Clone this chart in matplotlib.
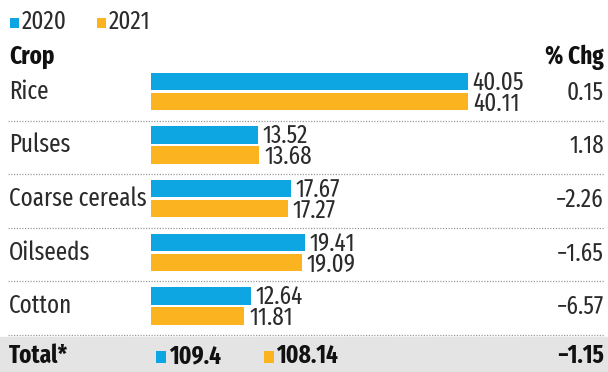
import matplotlib
matplotlib.use("Agg")
import matplotlib.pyplot as plt
from matplotlib import font_manager

crops = ["Rice", "Pulses", "Coarse cereals", "Oilseeds", "Cotton"]
area_2020 = [40.05, 13.52, 17.67, 19.41, 12.64]
area_2021 = [40.11, 13.68, 17.27, 19.09, 11.81]
pct_chg = ["0.15", "1.18", "\u22122.26", "\u22121.65", "\u22126.57"]
total_2020 = "109.4"
total_2021 = "108.14"
total_chg = "\u22121.15"
years = ["2020", "2021"]

BLUE = "#0ea5e3"
ORANGE = "#fbb320"
TEXT = "#2b2b2b"

names = {f.name for f in font_manager.fontManager.ttflist}
FONT = next((n for n in ["Fira Sans Extra Condensed", "Fira Sans Condensed",
                         "Roboto Condensed", "PT Sans Narrow", "DejaVu Sans"]
             if n in names), "DejaVu Sans")
plt.rcParams["font.family"] = [FONT, "DejaVu Sans"]

FS = 18
W, H = 608, 372
fig = plt.figure(figsize=(W / 100, H / 100), dpi=100)
ax = fig.add_axes([0, 0, 1, 1])
ax.set_axis_off()

# x in data units (bars start at pixel 151, ~7.915 px per unit); y in pixel rows
scale = 7.915
x0 = 151
ax.set_xlim(-x0 / scale, (W - x0) / scale)
ax.set_ylim(H, 0)
tx = ax.get_yaxis_transform()  # x as figure fraction, y in data rows

def fx(px):
    return px / W

def square(px, py, color, w=9, h=10):
    ax.add_patch(plt.Rectangle((fx(px), py - h / 2), w / W, h, color=color,
                               transform=tx, lw=0))

# legend
square(10, 23, BLUE)
ax.text(fx(22), 22, years[0], color=TEXT, fontsize=FS, va="center", ha="left", transform=tx)
square(97, 23, ORANGE)
ax.text(fx(109), 22, years[1], color=TEXT, fontsize=FS, va="center", ha="left", transform=tx)

# headers
ax.text(fx(9), 57, "Crop", color="#111111", fontsize=FS, fontweight="bold",
        va="center", ha="left", transform=tx)
ax.text(fx(604), 57, "% Chg", color="#111111", fontsize=FS, fontweight="bold",
        va="center", ha="right", transform=tx)

pitch = 53.6
first = 91.5
bh = 17.5
for i, crop in enumerate(crops):
    c = first + i * pitch
    yb, yo = c - 10, c + 10
    ax.barh(yb, area_2020[i], height=bh, left=0, color=BLUE)
    ax.barh(yo, area_2021[i], height=bh, left=0, color=ORANGE)
    ax.text(area_2020[i] + 0.6, yb + 1, f"{area_2020[i]:.2f}", color=TEXT, fontsize=FS,
            va="center", ha="left")
    ax.text(area_2021[i] + 0.6, yo + 2, f"{area_2021[i]:.2f}", color=TEXT, fontsize=FS,
            va="center", ha="left")
    ax.text(fx(9), c, crop, color=TEXT, fontsize=FS, va="center", ha="left", transform=tx)
    ax.text(fx(604), c + 1, pct_chg[i], color=TEXT, fontsize=FS, va="center", ha="right",
            transform=tx)
    ax.plot([fx(8), fx(604)], [c + 29, c + 29], color="#9a9a9a", lw=0.9,
            ls=(0, (1, 1.2)), transform=tx)

# total row
ty = 356
ax.axhspan(337, H, color="#e4e4e4", zorder=0)
ax.text(fx(9), ty, "Total*", color="#111111", fontsize=FS, fontweight="bold",
        va="center", ha="left", transform=tx)
square(156, ty + 1, BLUE, 10, 12)
ax.text(fx(169), ty, total_2020, color="#111111", fontsize=FS, fontweight="bold",
        va="center", ha="left", transform=tx)
square(264, ty + 1, ORANGE, 10, 12)
ax.text(fx(276), ty, total_2021, color="#111111", fontsize=FS, fontweight="bold",
        va="center", ha="left", transform=tx)
ax.text(fx(604), ty, total_chg, color="#111111", fontsize=FS, fontweight="bold",
        va="center", ha="right", transform=tx)

fig.savefig("out.png", dpi=100, facecolor="white")
